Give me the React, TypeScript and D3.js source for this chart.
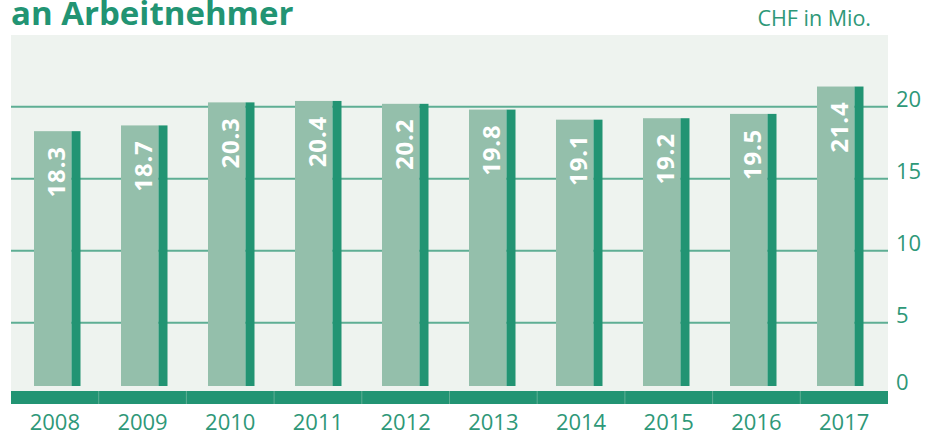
import React from "react";
import * as d3 from "d3";

const years = ["2008", "2009", "2010", "2011", "2012", "2013", "2014", "2015", "2016", "2017"];
const values = [18.3, 18.7, 20.3, 20.4, 20.2, 19.8, 19.1, 19.2, 19.5, 21.4];
const yTicks = [0, 5, 10, 15, 20];
const title = "an Arbeitnehmer";
const unitLabel = "CHF in Mio.";

const W = 939;
const H = 436;
const plotLeft = 11;
const plotRight = 888;
const plotTop = 35;
const plotBottom = 391;
const bandBottom = 404;

const FONT = "'Open Sans', 'DejaVu Sans', sans-serif";
const GREEN = "#229473";
const LIGHT_BAR = "#94bfab";
const GRID = "#5eae94";
const BG = "#eef3ef";
const TEXT_GREEN = "#2e9878";

export default function App() {
  const xBand = d3.scaleBand<string>().domain(years).range([plotLeft, plotRight]).padding(0);
  const xBar = d3
    .scaleBand<string>()
    .domain(years)
    .range([34, 863.5])
    .paddingInner(0.4655)
    .paddingOuter(0);
  const y = d3.scaleLinear().domain([0, 20]).range([394.7, 106.7]);
  const barBase = plotBottom - 5;
  const darkW = 9;

  return (
    <svg width={W} height={H} style={{ position: "absolute", left: 0, top: 0 }}>
      <text x={11} y={25} fontFamily={FONT} fontWeight={700} fontSize={33} fill={GREEN}>
        {title}
      </text>
      <text x={871} y={26} textAnchor="end" fontFamily={FONT} fontWeight={400} fontSize={21.5} fill={TEXT_GREEN}>
        {unitLabel}
      </text>
      <rect x={plotLeft} y={plotTop} width={plotRight - plotLeft} height={plotBottom - plotTop} fill={BG} />
      {yTicks
        .filter((t) => t > 0)
        .map((t) => (
          <line key={t} x1={plotLeft} x2={plotRight} y1={y(t)} y2={y(t)} stroke={GRID} strokeWidth={2} />
        ))}
      {yTicks.map((t) => (
        <text
          key={t}
          x={896}
          y={t === 0 ? plotBottom - 1 : y(t)}
          fontFamily={FONT}
          fontWeight={400}
          fontSize={22}
          fill={TEXT_GREEN}
        >
          {t}
        </text>
      ))}
      {years.map((yr, i) => {
        const x0 = xBar(yr)!;
        const bw = xBar.bandwidth();
        const top = y(values[i]);
        const cx = x0 + bw / 2 - 1.5;
        return (
          <g key={yr}>
            <rect x={x0} y={top} width={bw - darkW} height={barBase - top} fill={LIGHT_BAR} />
            <rect x={x0 + bw - darkW} y={top} width={darkW} height={barBase - top} fill={GREEN} />
            <text
              transform={`translate(${cx},${top + 15}) rotate(-90)`}
              textAnchor="end"
              dominantBaseline="central"
              fontFamily={FONT}
              fontWeight={700}
              fontSize={24}
              letterSpacing={0.8}
              fill="#ffffff"
            >
              {values[i].toFixed(1)}
            </text>
          </g>
        );
      })}
      <rect x={plotLeft} y={plotBottom} width={plotRight - plotLeft} height={bandBottom - plotBottom} fill={GREEN} />
      {years.slice(1).map((yr) => (
        <line
          key={yr}
          x1={xBand(yr)!}
          x2={xBand(yr)!}
          y1={plotBottom}
          y2={bandBottom}
          stroke={GRID}
          strokeWidth={1}
        />
      ))}
      {years.map((yr) => (
        <text
          key={yr}
          x={xBand(yr)! + xBand.bandwidth() / 2}
          y={430}
          textAnchor="middle"
          fontFamily={FONT}
          fontWeight={400}
          fontSize={22}
          fill={TEXT_GREEN}
        >
          {yr}
        </text>
      ))}
    </svg>
  );
}
